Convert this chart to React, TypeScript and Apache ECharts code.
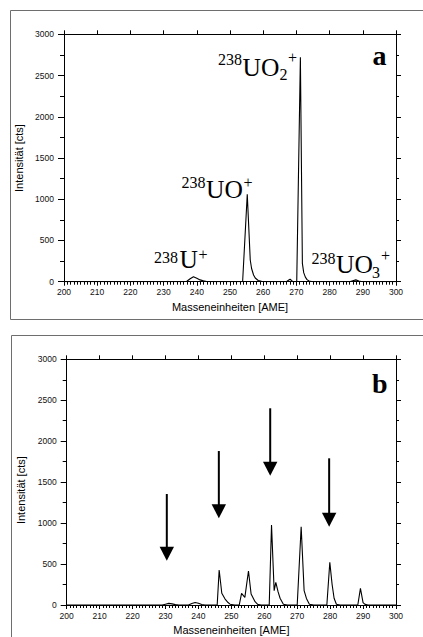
import React, { useEffect, useRef } from "react";
import * as echarts from "echarts";

// Panel a: mass spectrum of 238U species
const MASS_A = [200, 236, 237, 238, 239, 240, 241, 242, 243, 245, 253.8, 255.2, 256.1, 256.5, 257.1, 257.6, 258.5, 259.5, 261, 267, 267.6, 268.1, 268.6, 269, 270.1, 271.2, 271.8, 272.2, 272.7, 273.2, 273.8, 275, 286, 287, 287.9, 288.8, 290, 300];
const INT_A = [0, 0, 5, 35, 60, 42, 22, 10, 3, 0, 0, 1060, 263, 160, 81, 45, 15, 4, 0, 0, 18, 30, 12, 0, 0, 2722, 223, 110, 55, 25, 8, 0, 0, 12, 22, 8, 0, 0];

// Panel b
const MASS_B = [200, 229, 230, 231, 232, 233, 234, 237, 238, 239, 240, 241, 242, 245.7, 246.3, 247.1, 248.1, 249, 249.6, 251, 252.4, 253.1, 254.1, 255.2, 256, 257.2, 258, 259, 261.5, 262.2, 263, 263.5, 264.2, 264.8, 265.8, 267, 270, 271.2, 272.1, 272.8, 273.7, 275, 279, 279.9, 280.6, 281.2, 281.9, 283, 288.4, 289.2, 290, 290.6, 291.5, 300];
const INT_B = [0, 0, 10, 20, 14, 5, 0, 0, 18, 30, 22, 6, 0, 0, 427, 143, 73, 30, 10, 0, 0, 143, 94, 415, 134, 40, 8, 0, 0, 977, 175, 277, 160, 82, 10, 0, 0, 956, 175, 80, 10, 0, 0, 521, 250, 82, 10, 0, 0, 204, 30, 8, 0, 0];

// Arrows in panel b: x position, tail value, tip value
const ARROW_X = [230.4, 246.2, 261.8, 279.7];
const ARROW_TAIL = [1355, 1880, 2402, 1791];
const ARROW_TIP = [541, 1059, 1579, 956];

const X_TICKS = { min: 200, max: 300, interval: 10 };
const Y_TICKS = { min: 0, max: 3000, interval: 500 };

const SANS = '"Liberation Sans", Arial, sans-serif';
const SERIF = '"Liberation Serif", "Times New Roman", serif';

function makeAxes(gridIndex: number, xNameGap: number, yNamePad: number[]) {
  const black = { color: "#000", width: 1 };
  const xAxes = [
    {
      type: "value", gridIndex, position: "bottom", ...X_TICKS,
      name: "Masseneinheiten [AME]", nameLocation: "middle", nameGap: xNameGap,
      nameTextStyle: { fontFamily: SANS, fontSize: 11, color: "#000" },
      axisLine: { show: true, onZero: false, lineStyle: black },
      axisTick: { show: true, inside: false, length: 4, lineStyle: black },
      minorTick: { show: true, splitNumber: 10, length: 3, lineStyle: black },
      axisLabel: { fontFamily: SANS, fontSize: 8.5, color: "#111", margin: 6, formatter: (v: number) => String(v) },
      splitLine: { show: false }, minorSplitLine: { show: false },
    },
    {
      type: "value", gridIndex, position: "top", ...X_TICKS,
      axisLine: { show: true, onZero: false, lineStyle: black },
      axisTick: { show: true, inside: false, length: 4, lineStyle: black },
      axisLabel: { show: false },
      splitLine: { show: false },
    },
  ];
  const yAxes = [
    {
      type: "value", gridIndex, position: "left", ...Y_TICKS,
      name: "Intensität [cts]", nameLocation: "middle", nameGap: 33,
      nameTextStyle: { fontFamily: SANS, fontSize: 11, color: "#000", padding: yNamePad },
      axisLine: { show: true, onZero: false, lineStyle: black },
      axisTick: { show: true, inside: false, length: 6, lineStyle: black },
      minorTick: { show: true, splitNumber: 2, length: 4, lineStyle: black },
      axisLabel: { fontFamily: SANS, fontSize: 8.5, color: "#111", margin: 10, formatter: (v: number) => String(v) },
      splitLine: { show: false }, minorSplitLine: { show: false },
    },
    {
      type: "value", gridIndex, position: "right", ...Y_TICKS,
      axisLine: { show: true, onZero: false, lineStyle: black },
      axisTick: { show: true, inside: false, length: 5, lineStyle: black },
      minorTick: { show: true, splitNumber: 2, length: 3, lineStyle: black },
      axisLabel: { show: false },
      splitLine: { show: false },
    },
  ];
  return { xAxes, yAxes };
}

// text piece helper: left x, baseline y
function txt(text: string, x: number, baseline: number, size: number, bold = false) {
  return {
    type: "text",
    x,
    y: baseline - size * 0.33,
    style: {
      text,
      font: `${bold ? "bold " : ""}${size}px ${SERIF}`,
      fill: "#000",
      align: "left",
      verticalAlign: "middle",
    },
  };
}

export default function App() {
  const ref = useRef<HTMLDivElement>(null);
  useEffect(() => {
    if (!ref.current) return;
    const chart = echarts.init(ref.current, undefined, { renderer: "svg" });
    const a = makeAxes(0, 20, [0, 0, 0, 0]);
    const b = makeAxes(1, 19, [0, 16, 0, 0]);
    const option = {
      animation: false,
      backgroundColor: "#fff",
      grid: [
        { left: 64, right: 27, top: 34.3, height: 247.4 },
        { left: 66.7, right: 27, top: 359.3, height: 245.7 },
      ],
      xAxis: [...a.xAxes, ...b.xAxes],
      yAxis: [...a.yAxes, ...b.yAxes],
      series: [
        {
          type: "line", xAxisIndex: 0, yAxisIndex: 0,
          data: MASS_A.map((m, i) => [m, INT_A[i]]),
          showSymbol: false, symbol: "none",
          lineStyle: { color: "#000", width: 1.1 }, silent: true,
        },
        {
          type: "line", xAxisIndex: 2, yAxisIndex: 2,
          data: MASS_B.map((m, i) => [m, INT_B[i]]),
          showSymbol: false, symbol: "none",
          lineStyle: { color: "#000", width: 1.1 }, silent: true,
        },
        {
          type: "custom", xAxisIndex: 2, yAxisIndex: 2,
          coordinateSystem: "cartesian2d",
          data: ARROW_X.map((x, i) => [x, ARROW_TAIL[i], ARROW_TIP[i]]),
          encode: { x: 0, y: [1, 2] },
          clip: false,
          renderItem: (params: any, api: any) => {
            const x = api.value(0);
            const tail = api.coord([x, api.value(1)]);
            const tip = api.coord([x, api.value(2)]);
            const hh = 14, hw = 7.2;
            return {
              type: "group",
              children: [
                {
                  type: "line",
                  shape: { x1: tail[0], y1: tail[1], x2: tip[0], y2: tip[1] - hh + 1 },
                  style: { stroke: "#000", lineWidth: 2 },
                },
                {
                  type: "polygon",
                  shape: { points: [[tip[0] - hw, tip[1] - hh], [tip[0] + hw, tip[1] - hh], [tip[0], tip[1]]] },
                  style: { fill: "#000" },
                },
              ],
            };
          },
        },
      ],
      graphic: [
        { type: "rect", shape: { x: 10.5, y: 10.5, width: 440, height: 309 }, style: { fill: "none", stroke: "#6e6e6e", lineWidth: 1 } },
        { type: "rect", shape: { x: 11.5, y: 335.5, width: 440, height: 340 }, style: { fill: "none", stroke: "#6e6e6e", lineWidth: 1 } },
        // 238UO2+
        txt("238", 218, 65, 16), txt("UO", 242.5, 76, 25.5), txt("2", 279.5, 80, 16), txt("+", 288, 63, 16),
        // 238UO+
        txt("238", 181.5, 188, 16), txt("UO", 206, 198.3, 25.5), txt("+", 243.5, 188, 16),
        // 238U+
        txt("238", 154, 263, 16), txt("U", 179.5, 268.3, 25.5), txt("+", 198.5, 260, 16),
        // 238UO3+
        txt("238", 311.5, 263.3, 16), txt("UO", 336, 272.7, 25.5), txt("3", 372, 278, 16), txt("+", 381, 261, 16),
        // panel letters
        txt("a", 372.5, 65, 28, true),
        txt("b", 372, 393, 28, true),
      ],
    };
    chart.setOption(option as any);
    return () => chart.dispose();
  }, []);
  return (
    <div
      ref={ref}
      style={{ position: "fixed", left: 0, top: 0, width: 423, height: 637, background: "#fff" }}
    />
  );
}
